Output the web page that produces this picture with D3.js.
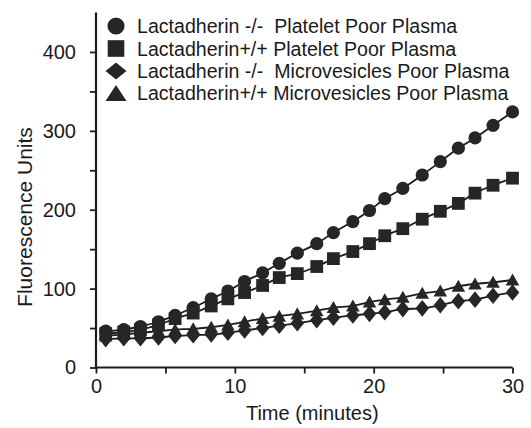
<!DOCTYPE html>
<html>
<head>
<meta charset="utf-8">
<script src="https://cdn.jsdelivr.net/npm/d3@7"></script>
<style>
  html, body { margin: 0; padding: 0; background: #fff; }
  svg { display: block; }
  text { font-family: "Liberation Sans", Arial, sans-serif; fill: #1a1a1a; }
</style>
</head>
<body>
<svg id="chart" width="531" height="428"></svg>
<script>
// ---- data ----
const times = [0.7, 2.0, 3.2, 4.5, 5.7, 7.0, 8.3, 9.5, 10.7, 12.0, 13.2, 14.5, 15.9, 17.1, 18.5, 19.7, 20.8, 22.1, 23.5, 24.8, 26.1, 27.3, 28.6, 30.0];
const pppKO = [46, 48, 52, 58, 66, 76, 87, 97, 109, 120, 132, 145, 157, 171, 185, 199, 214, 227, 244, 261, 278, 291, 307, 324];
const pppWT = [43, 45, 48, 54, 62, 69, 78, 87, 95, 104, 114, 119, 128, 138, 147, 157, 167, 176, 188, 198, 208, 221, 231, 240];
const mppKO = [36, 37, 37, 38, 40, 41, 42, 44, 47, 50, 53, 56, 60, 63, 66, 68, 70, 74, 75, 79, 84, 86, 91, 95];
const mppWT = [40, 42, 44, 46, 48, 49, 51, 54, 58, 62, 65, 68, 72, 76, 78, 83, 86, 89, 94, 97, 103, 106, 108, 111];
const seriesNames = [
  "Lactadherin -/-  Platelet Poor Plasma",
  "Lactadherin+/+ Platelet Poor Plasma",
  "Lactadherin -/-  Microvesicles Poor Plasma",
  "Lactadherin+/+ Microvesicles Poor Plasma"
];
const seriesShapes = ["circle", "square", "diamond", "triangle"];
const xTicks = [0, 5, 10, 15, 20, 25, 30];
const xLabels = [0, 10, 20, 30];
const yTicks = [0, 50, 100, 150, 200, 250, 300, 350, 400];
const yLabels = [0, 100, 200, 300, 400];
const xTitle = "Time (minutes)";
const yTitle = "Fluorescence Units";

// ---- layout ----
const svg = d3.select("#chart");
const ink = "#1c1c1c";
const x = d3.scaleLinear().domain([0, 30]).range([96, 512.5]);
const y = d3.scaleLinear().domain([0, 450]).range([367.5, 12.5]);

const series = [pppKO, pppWT, mppKO, mppWT].map((vals, i) => ({
  name: seriesNames[i], shape: seriesShapes[i],
  points: vals.map((v, j) => ({ t: times[j], v }))
}));

function shapePath(shape, s) {
  switch (shape) {
    case "circle": {
      const r = 6.6 * s;
      return `M${-r},0A${r},${r} 0 1,0 ${r},0A${r},${r} 0 1,0 ${-r},0Z`;
    }
    case "square": {
      const h = 6.4 * s;
      return `M${-h},${-h}H${h}V${h}H${-h}Z`;
    }
    case "diamond": {
      const w = 6.8 * s, h = 8.3 * s;
      return `M0,${-h}L${w},0L0,${h}L${-w},0Z`;
    }
    case "triangle": {
      const w = 6.8 * s, h = 6.5 * s;
      return `M0,${-h}L${w},${h * 0.85}L${-w},${h * 0.85}Z`;
    }
  }
}

// axes
const xAxis = d3.axisBottom(x).tickValues(xTicks).tickSize(6).tickSizeOuter(0)
  .tickPadding(5).tickFormat(d => xLabels.includes(d) ? d : "");
const yAxis = d3.axisLeft(y).tickValues(yTicks).tickSize(6).tickSizeOuter(0)
  .tickPadding(14).tickFormat(d => yLabels.includes(d) ? d : "");

const gx = svg.append("g").attr("transform", `translate(0,${y(0)})`).call(xAxis);
const gy = svg.append("g").attr("transform", `translate(${x(0)},0)`).call(yAxis);
[gx, gy].forEach(g => {
  g.select(".domain").attr("stroke", ink).attr("stroke-width", 2.2);
  g.selectAll(".tick line").attr("stroke", ink).attr("stroke-width", 1.8);
  g.selectAll(".tick text").attr("font-size", 20).attr("fill", ink)
    .style("font-family", '"Liberation Sans", Arial, sans-serif');
});
gx.select(".domain").attr("d", `M${x(0) - 1},0H${x(30)}`);
gy.select(".domain").attr("d", `M0,${y(0) + 1}V${y(450)}`);

// titles
svg.append("text").attr("x", (x(0) + x(30)) / 2 + 8).attr("y", 413)
  .attr("text-anchor", "middle").attr("dominant-baseline", "central")
  .attr("font-size", 20).text(xTitle);
svg.append("text").attr("transform", "translate(24,217) rotate(-90)")
  .attr("text-anchor", "middle").attr("dominant-baseline", "central")
  .attr("font-size", 21).text(yTitle);

// lines
const line = d3.line().x(d => x(d.t)).y(d => y(d.v)).curve(d3.curveMonotoneX);
svg.append("g").selectAll("path").data(series).join("path")
  .attr("d", d => line(d.points))
  .attr("fill", "none").attr("stroke", ink).attr("stroke-width", 1.8);

// markers
series.forEach(s => {
  svg.append("g").selectAll("path").data(s.points).join("path")
    .attr("transform", d => `translate(${x(d.t)},${y(d.v)})`)
    .attr("d", shapePath(s.shape, 1))
    .attr("fill", "#262626");
});

// legend
const legendY = [26, 48.5, 71, 93];
const lg = svg.append("g");
series.forEach((s, i) => {
  let p = shapePath(s.shape, 1.3);
  if (s.shape === "diamond") {
    const w = 10.5, h = 8.5;
    p = `M0,${-h}L${w},0L0,${h}L${-w},0Z`;
  }
  if (s.shape === "triangle") {
    const w = 10.5, h = 8;
    p = `M0,${-h}L${w},${h}L${-w},${h}Z`;
  }
  lg.append("path").attr("transform", `translate(116,${legendY[i]})`)
    .attr("d", p).attr("fill", "#262626");
  lg.append("text").attr("x", 137).attr("y", legendY[i])
    .attr("dominant-baseline", "central").attr("font-size", 19.6)
    .style("white-space", "pre").text(s.name);
});
</script>
</body>
</html>
